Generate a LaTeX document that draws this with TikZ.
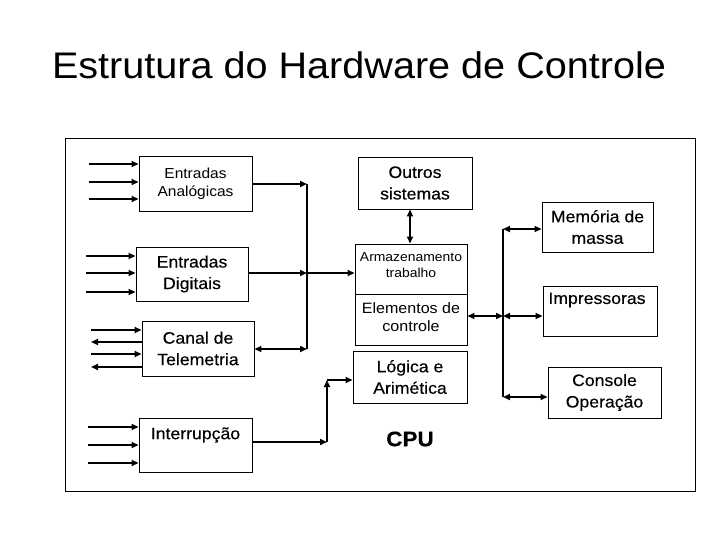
\documentclass[tikz,border=0pt]{standalone}
\usepackage{fontspec}
\setmainfont[FakeStretch=1.07]{Liberation Sans}
\newfontfamily\regfont[FakeStretch=1.07,FakeBold=0.35]{Liberation Sans}
\usetikzlibrary{arrows.meta}
\begin{document}
\begin{tikzpicture}[x=1pt,y=-1pt,
  box/.style={draw, line width=0.9pt, inner sep=0pt, align=center},
  reg/.style={font=\regfont\fontsize{16.5}{21.5}\selectfont, align=center},
  thin/.style={font=\fontsize{14.5}{18}\selectfont, align=center},
  arr/.style={line width=1.7pt, -{Triangle[length=7pt,width=6pt]}},
  darr/.style={line width=1.7pt, {Triangle[length=7pt,width=6pt]}-{Triangle[length=7pt,width=6pt]}},
  bus/.style={line width=1.7pt}]
\useasboundingbox (0,0) rectangle (720,540);
% title
\node[font=\fontsize{37}{40}\selectfont, anchor=base] (title) at (359,79) {Estrutura do Hardware de Controle};
% frame
\draw[line width=1pt] (65,139) rectangle (695,491);
% left boxes
\node[box, thin, minimum width=113, minimum height=55] (ana) at (195.5,183.5) {Entradas\\Analógicas};
\node[box, reg, minimum width=112, minimum height=54] (dig) at (192,274) {Entradas\\Digitais};
\node[box, reg, minimum width=112, minimum height=55] (tel) at (198,348.5) {Canal de\\Telemetria};
\node[box, minimum width=113, minimum height=54] (intr) at (195.5,445) {};
\node[reg] (intrt) at (195.5,435) {Interrupção};
% centre boxes
\node[box, reg, minimum width=114, minimum height=52] (outros) at (415,183) {Outros\\sistemas};
\node[box, minimum width=112, minimum height=50] (arm) at (411,269) {};
\node[font=\fontsize{13}{16}\selectfont, align=center] (armt) at (411,265.5) {Armazenamento\\trabalho};
\node[box, minimum width=112, minimum height=51] (elem) at (411,319.5) {};
\node[font=\fontsize{15}{18}\selectfont, align=center] (elemt) at (411,317.5) {Elementos de\\controle};
\node[box, reg, minimum width=114, minimum height=52] (log) at (410,377) {Lógica e\\Arimética};
\node[font=\regfont\fontsize{21}{24}\selectfont\bfseries] (cpu) at (410,439) {CPU};
% right boxes
\node[box, reg, minimum width=111, minimum height=50] (mem) at (597.5,227) {Memória de\\massa};
\node[box, minimum width=114, minimum height=50] (imp) at (600,311) {};
\node[reg] (impt) at (597,300) {Impressoras};
\node[box, reg, minimum width=113, minimum height=51] (cons) at (604.5,392.5) {Console\\Operação};
% input coordinates
\coordinate (a1) at (89,164); \coordinate (a2) at (89,182); \coordinate (a3) at (89,199);
\coordinate (d1) at (86,256); \coordinate (d2) at (86,273); \coordinate (d3) at (86,292);
\coordinate (t1) at (91,330); \coordinate (t2) at (91,342); \coordinate (t3) at (91,354); \coordinate (t4) at (91,367);
\coordinate (i1) at (88,427); \coordinate (i2) at (88,445); \coordinate (i3) at (88,463);
\foreach \c in {a1,a2,a3} \draw[arr] (\c) -- (\c -| ana.west);
\foreach \c in {d1,d2,d3} \draw[arr] (\c) -- (\c -| dig.west);
\foreach \c in {t1,t3} \draw[arr] (\c) -- (\c -| tel.west);
\foreach \c in {t2,t4} \draw[arr] (\c -| tel.west) -- (\c);
\foreach \c in {i1,i2,i3} \draw[arr] (\c) -- (\c -| intr.west);
% left bus
\coordinate (b1) at (307,184); \coordinate (b2) at (307,273); \coordinate (b3) at (307,349);
\draw[bus] (b1) -- (b3);
\draw[arr] (b1 -| ana.east) -- (b1);
\draw[arr] (b2 -| dig.east) -- (b2);
\draw[arr] (b2) -- (b2 -| arm.west);
\draw[darr] (b3 -| tel.east) -- (b3);
% interrupt path
\coordinate (c1) at (327,442); \coordinate (c2) at (327,380);
\draw[arr] (c1 -| intr.east) -- (c1);
\draw[arr] (c1) -- (c2);
\draw[arr] (c2) -- (c2 -| log.west);
% outros <-> arm
\draw[darr] (outros.south -| 410,0) -- (arm.north -| 410,0);
% right bus
\coordinate (r1) at (503,229); \coordinate (r2) at (503,316); \coordinate (r3) at (503,397);
\draw[bus] (r1) -- (r3);
\draw[darr] (r2 -| elem.east) -- (r2);
\draw[darr] (r1) -- (r1 -| mem.west);
\draw[darr] (r2) -- (r2 -| imp.west);
\draw[darr] (r3) -- (r3 -| cons.west);
\end{tikzpicture}
\end{document}
